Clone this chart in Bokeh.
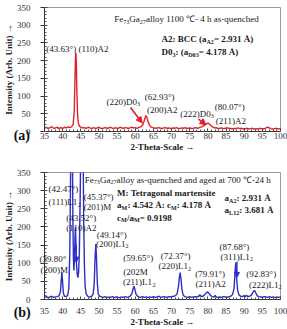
import re
from bokeh.plotting import figure
from bokeh.models import Range1d, FixedTicker, Label, Arrow, NormalHead
from bokeh.core.properties import value
from bokeh.layouts import column
from bokeh.embed import file_html
from bokeh.resources import INLINE

# ---------------- data ----------------
two_theta_a = [35.0, 35.5, 36.0, 36.5, 37.0, 37.5, 38.0, 38.5, 39.0, 39.5, 40.0, 40.5, 41.0, 41.5, 42.0, 42.5,
               42.9, 43.2, 43.4, 43.55, 43.65, 43.75, 43.9, 44.1, 44.3, 44.6, 45.0, 45.5, 46.0, 46.5, 47.0, 47.5,
               48.0, 48.5, 49.0, 49.5, 50.0, 50.5, 51.0, 51.5, 52.0, 52.5, 53.0, 53.5, 54.0, 54.5, 55.0, 55.5,
               56.0, 56.5, 57.0, 57.5, 58.0, 58.5, 59.0, 59.5, 60.0, 60.5, 61.0, 61.5, 62.0, 62.4, 62.7, 62.93,
               63.2, 63.5, 63.9, 64.3, 64.8, 65.3, 65.8, 66.3, 66.8, 67.3, 67.8, 68.3, 68.8, 69.3, 69.8, 70.3,
               70.8, 71.3, 71.8, 72.3, 72.8, 73.3, 73.8, 74.3, 74.8, 75.3, 75.8, 76.3, 76.8, 77.3, 77.8, 78.3,
               78.8, 79.3, 79.7, 80.07, 80.4, 80.8, 81.3, 81.8, 82.3, 82.8, 83.3, 83.8, 84.3, 84.8, 85.3, 85.8,
               86.3, 86.8, 87.3, 87.8, 88.3, 88.8, 89.3, 89.8, 90.3, 90.8, 91.3, 91.8, 92.3, 92.8, 93.3, 93.8,
               94.3, 94.8, 95.3, 95.8, 96.3, 96.8, 97.3, 97.8, 98.3, 98.8, 99.3, 100.0]
intensity_a = [9, 12, 8, 11, 13, 9, 10, 12, 8, 11, 9, 12, 10, 13, 11, 14,
               20, 60, 150, 212, 222, 200, 120, 50, 25, 15, 12, 10, 11, 9, 12, 10,
               8, 11, 9, 10, 12, 9, 8, 11, 10, 9, 12, 10, 8, 11, 9, 10,
               12, 9, 10, 11, 9, 10, 12, 10, 11, 9, 12, 13, 18, 28, 38, 45,
               40, 28, 18, 13, 11, 10, 9, 11, 10, 8, 10, 11, 9, 10, 8, 10,
               9, 11, 9, 8, 10, 9, 11, 8, 10, 9, 8, 10, 11, 9, 12, 13,
               16, 19, 22, 24, 21, 17, 13, 10, 11, 8, 9, 10, 8, 9, 11, 8,
               9, 7, 9, 8, 10, 8, 9, 7, 8, 9, 7, 8, 9, 7, 8, 7,
               9, 8, 7, 9, 12, 11, 8, 7, 8, 9, 7, 8]

two_theta_b = [35.0, 35.5, 36.0, 36.5, 37.0, 37.5, 38.0, 38.5, 39.0, 39.4, 39.6, 39.8, 40.0, 40.2, 40.5, 41.0,
               41.4, 41.7, 41.95, 42.15, 42.3, 42.47, 42.65, 42.8, 42.95, 43.1, 43.25, 43.4, 43.52, 43.65, 43.8,
               44.0, 44.2, 44.4, 44.6, 44.85, 45.1, 45.37, 45.6, 45.8, 46.0, 46.2, 46.5, 47.0, 47.5, 48.0, 48.4,
               48.7, 48.95, 49.14, 49.3, 49.55, 49.8, 50.2, 50.7, 51.2, 51.7, 52.2, 52.7, 53.2, 53.7, 54.2, 54.7,
               55.2, 55.7, 56.2, 56.7, 57.2, 57.7, 58.2, 58.7, 59.1, 59.4, 59.65, 59.9, 60.2, 60.6, 61.0, 61.5,
               62.0, 62.5, 63.0, 63.5, 64.0, 64.5, 65.0, 65.5, 66.0, 66.5, 67.0, 67.5, 68.0, 68.5, 69.0, 69.5,
               70.0, 70.5, 71.0, 71.5, 71.9, 72.15, 72.37, 72.6, 72.85, 73.2, 73.6, 74.0, 74.5, 75.0, 75.5, 76.0,
               76.5, 77.0, 77.5, 77.8, 78.1, 78.5, 79.0, 79.5, 79.91, 80.3, 80.7, 81.2, 81.7, 82.0, 82.3, 82.8,
               83.3, 83.8, 84.3, 84.8, 85.3, 85.8, 86.3, 86.8, 87.2, 87.45, 87.68, 87.9, 88.2, 88.6, 89.0, 89.5,
               90.0, 90.3, 90.6, 91.0, 91.5, 92.0, 92.4, 92.83, 93.2, 93.6, 94.0, 94.5, 95.0, 95.5, 96.0, 96.5,
               97.0, 97.5, 98.0, 98.5, 99.0, 99.5, 100.0]
intensity_b = [6, 8, 5, 7, 9, 6, 7, 8, 10, 22, 52, 75, 46, 18, 9, 8,
               12, 30, 120, 300, 500, 620, 480, 250, 120, 80, 110, 170, 199, 160, 100,
               70, 60, 75, 130, 300, 520, 600, 450, 220, 90, 35, 15, 8, 7, 9, 15,
               45, 120, 153, 120, 45, 15, 9, 7, 6, 8, 5, 7, 6, 8, 5, 7,
               6, 5, 7, 6, 8, 6, 7, 10, 18, 29, 37, 28, 15, 9, 7, 6,
               8, 6, 7, 5, 7, 6, 8, 6, 7, 9, 6, 7, 8, 6, 7, 8,
               7, 9, 10, 15, 36, 62, 74, 56, 28, 12, 8, 7, 6, 8, 6, 7,
               8, 7, 9, 13, 9, 8, 12, 18, 21, 17, 11, 8, 7, 11, 7, 6,
               7, 6, 8, 7, 6, 8, 9, 14, 30, 70, 102, 60, 25, 12, 9, 8,
               11, 7, 12, 8, 9, 12, 20, 25, 18, 10, 8, 7, 6, 8, 7, 6,
               8, 6, 7, 5, 7, 6, 7]

x_ticks = list(range(35, 101, 5))
x_minor = list(range(35, 101))
y_ticks = list(range(0, 351, 50))
y_minor = list(range(0, 351, 10))

# ---------------- annotations (text, placement) ----------------
ann_a = [
    (35.5, 232, "(43.63°) (110)A2", False),
    (54.2, 317, "Fe_{73}Ga_{27} alloy 1100 ℃- 4 h as-quenched", False),
    (67.2, 260, "A2: BCC (a_{A2} = 2.931 Å)", True),
    (67.2, 223, "D0_{3}: (a_{D03} = 4.178 Å)", True),
    (52.1, 84, "(220)D0_{3}", False),
    (62.6, 98, "(62.93°)", False),
    (63.2, 60, "(200)A2", False),
    (72.4, 50, "(222)D0_{3}", False),
    (81.9, 70, "(80.07°)", False),
    (82.2, 30, "(211)A2", False),
]
arrows_a = [((58.7, 68), (61.9, 24)), ((77.4, 35), (79.5, 19))]

ann_b = [
    (46.1, 330, "Fe_{73}Ga_{27} alloy as-quenched and aged at 700 ℃-24 h", False),
    (55.0, 294, "M: Tetragonal martensite", True),
    (55.0, 260, "a_{M}: 4.542 Å: c_{M}: 4.178 Å", True),
    (55.0, 225, "c_{M}/a_{M} = 0.9198", True),
    (84.6, 279, "a_{A2}: 2.931 Å", True),
    (84.6, 246, "a_{L12}: 3.681 Å", True),
    (36.1, 305, "(42.47°)", False),
    (36.1, 268, "(111)L1_{2}", False),
    (45.8, 283, "(45.37°)", False),
    (45.8, 256, "(201)M", False),
    (41.0, 224, "(43.52°)", False),
    (41.0, 196, "(110)A2", False),
    (49.4, 178, "(49.14°)", False),
    (49.2, 153, "(200)L1_{2}", False),
    (33.6, 111, "(39.80°", False),
    (33.9, 81, "(200)M", False),
    (56.7, 114, "(59.65°)", False),
    (56.7, 76, "(202M", False),
    (56.6, 48, "(211)L1_{2}", False),
    (67.0, 121, "(72.37°)", False),
    (66.4, 92, "(220)L1_{2}", False),
    (76.5, 71, "(79.91°)", False),
    (76.6, 43, "(211)A2", False),
    (83.2, 146, "(87.68°)", False),
    (83.5, 118, "(311)L1_{2}", False),
    (90.6, 71, "(92.83°)", False),
    (91.3, 41, "(222)L1_{2}", False),
]
arrows_b = [((43.75, 150), (43.75, 103)), ((88.0, 104), (88.0, 61))]

RED = "#e0202a"
BLUE = "#2d2dc8"
FONT = "Liberation Serif"

REG = {' ': 250, '(': 333, ')': 333, '.': 250, ':': 278, '=': 564, '-': 333, '°': 400, '℃': 1000,
       '/': 278, 'Å': 722, 'A': 722, 'B': 667, 'C': 667, 'D': 722, 'F': 556, 'G': 722, 'L': 611,
       'M': 889, 'T': 611, 'a': 444, 'c': 444, 'e': 444, 'f': 333, 'i': 278, 'l': 278, 'm': 778,
       'r': 333, 's': 389, 't': 278}
BOLD = {' ': 250, '(': 333, ')': 333, '.': 250, ':': 333, '=': 570, '-': 333, '°': 400, '℃': 1000,
        '/': 278, 'Å': 722, 'A': 722, 'B': 667, 'C': 722, 'D': 722, 'M': 944, 'T': 667, 'L': 667,
        'a': 500, 'c': 444, 'e': 444, 'i': 278, 'l': 278, 'm': 833, 'n': 556, 'r': 444, 's': 389,
        't': 333}


def text_width(s, bold):
    tab = BOLD if bold else REG
    w = 0
    for ch in s:
        if ch in tab:
            w += tab[ch]
        elif ch.isupper():
            w += 722
        else:
            w += 500
    return w / 1000.0


def rich(p, x, y, s, bold, size=9.0):
    """Text with _{..} subscripts, drawn as overlay-level text glyphs (not clipped)."""
    parts = re.split(r'(_\{[^}]*\})', s)
    off = 0.0
    for part in parts:
        if not part:
            continue
        sub = part.startswith('_{')
        txt = part[2:-1] if sub else part
        fs = size * 0.68 if sub else size
        p.text(x=[x], y=[y], text=[txt], x_offset=off, y_offset=2.5 if sub else 0,
               text_font=value(FONT), text_font_size=f"{fs:.1f}px",
               text_font_style="bold" if bold else "normal",
               text_color="#1a1a1a", text_baseline="middle", text_align="left",
               level="overlay")
        off += text_width(txt, bold) * fs


def make_fig(height, top, bottom, x_standoff):
    p = figure(width=287, height=height, x_range=Range1d(35, 100), y_range=Range1d(0, 350),
               output_backend="svg", toolbar_location=None,
               min_border_left=39, min_border_right=7, min_border_top=top, min_border_bottom=bottom,
               x_axis_label="2-Theta-Scale →", y_axis_label="Intensity (Arb. Unit) →")
    p.grid.visible = False
    p.outline_line_color = "#9a9a9a"
    p.outline_line_width = 1
    p.xaxis.ticker = FixedTicker(ticks=x_ticks, minor_ticks=x_minor)
    p.yaxis.ticker = FixedTicker(ticks=y_ticks, minor_ticks=y_minor)
    for ax in (p.xaxis, p.yaxis):
        ax.axis_line_color = "#333333"
        ax.major_tick_line_color = "#333333"
        ax.minor_tick_line_color = "#555555"
        ax.major_label_text_font = FONT
        ax.major_label_text_font_size = "9px"
        ax.major_label_text_color = "#333333"
        ax.axis_label_text_font = FONT
        ax.axis_label_text_font_size = "9px"
        ax.axis_label_text_font_style = "bold"
        ax.axis_label_text_color = "#1a1a1a"
        ax.axis_label_standoff = 0
    p.xaxis.major_tick_in = 3
    p.xaxis.major_tick_out = 0
    p.xaxis.minor_tick_in = 2
    p.xaxis.minor_tick_out = 0
    p.xaxis.major_label_standoff = x_standoff
    p.yaxis.major_tick_in = 3
    p.yaxis.major_tick_out = 4
    p.yaxis.minor_tick_in = 2
    p.yaxis.minor_tick_out = 0
    p.yaxis.major_label_standoff = 10
    return p


def panel_tag(p, x, y, tag):
    p.text(x=[x], y=[y], text=[tag], text_font=value(FONT), text_font_size="14px",
           text_font_style="bold", text_baseline="middle", text_align="left",
           text_color="#111111", level="overlay")


fa = make_fig(157, 7, 26, 1)
fa.line(two_theta_a, intensity_a, line_color=RED, line_width=1.4)
for x, y, s, b in ann_a:
    rich(fa, x, y, s, b)
for (x0, y0), (x1, y1) in arrows_a:
    fa.add_layout(Arrow(end=NormalHead(size=6, fill_color=RED, line_color=RED),
                        x_start=x0, y_start=y0, x_end=x1, y_end=y1,
                        line_color=RED, line_width=1.6))
panel_tag(fa, 26.5, -12, "(a)")

fb = make_fig(172, 15, 30, 8)
fb.line(two_theta_b, intensity_b, line_color=BLUE, line_width=1.4)
for x, y, s, b in ann_b:
    rich(fb, x, y, s, b)
for (x0, y0), (x1, y1) in arrows_b:
    fb.add_layout(Arrow(end=NormalHead(size=5, fill_color=BLUE, line_color=BLUE),
                        x_start=x0, y_start=y0, x_end=x1, y_end=y1,
                        line_color=BLUE, line_width=1.4))
panel_tag(fb, 26.5, -35, "(b)")

layout = column(fa, fb, spacing=0)
open("out.html", "w").write(file_html(layout, INLINE))
